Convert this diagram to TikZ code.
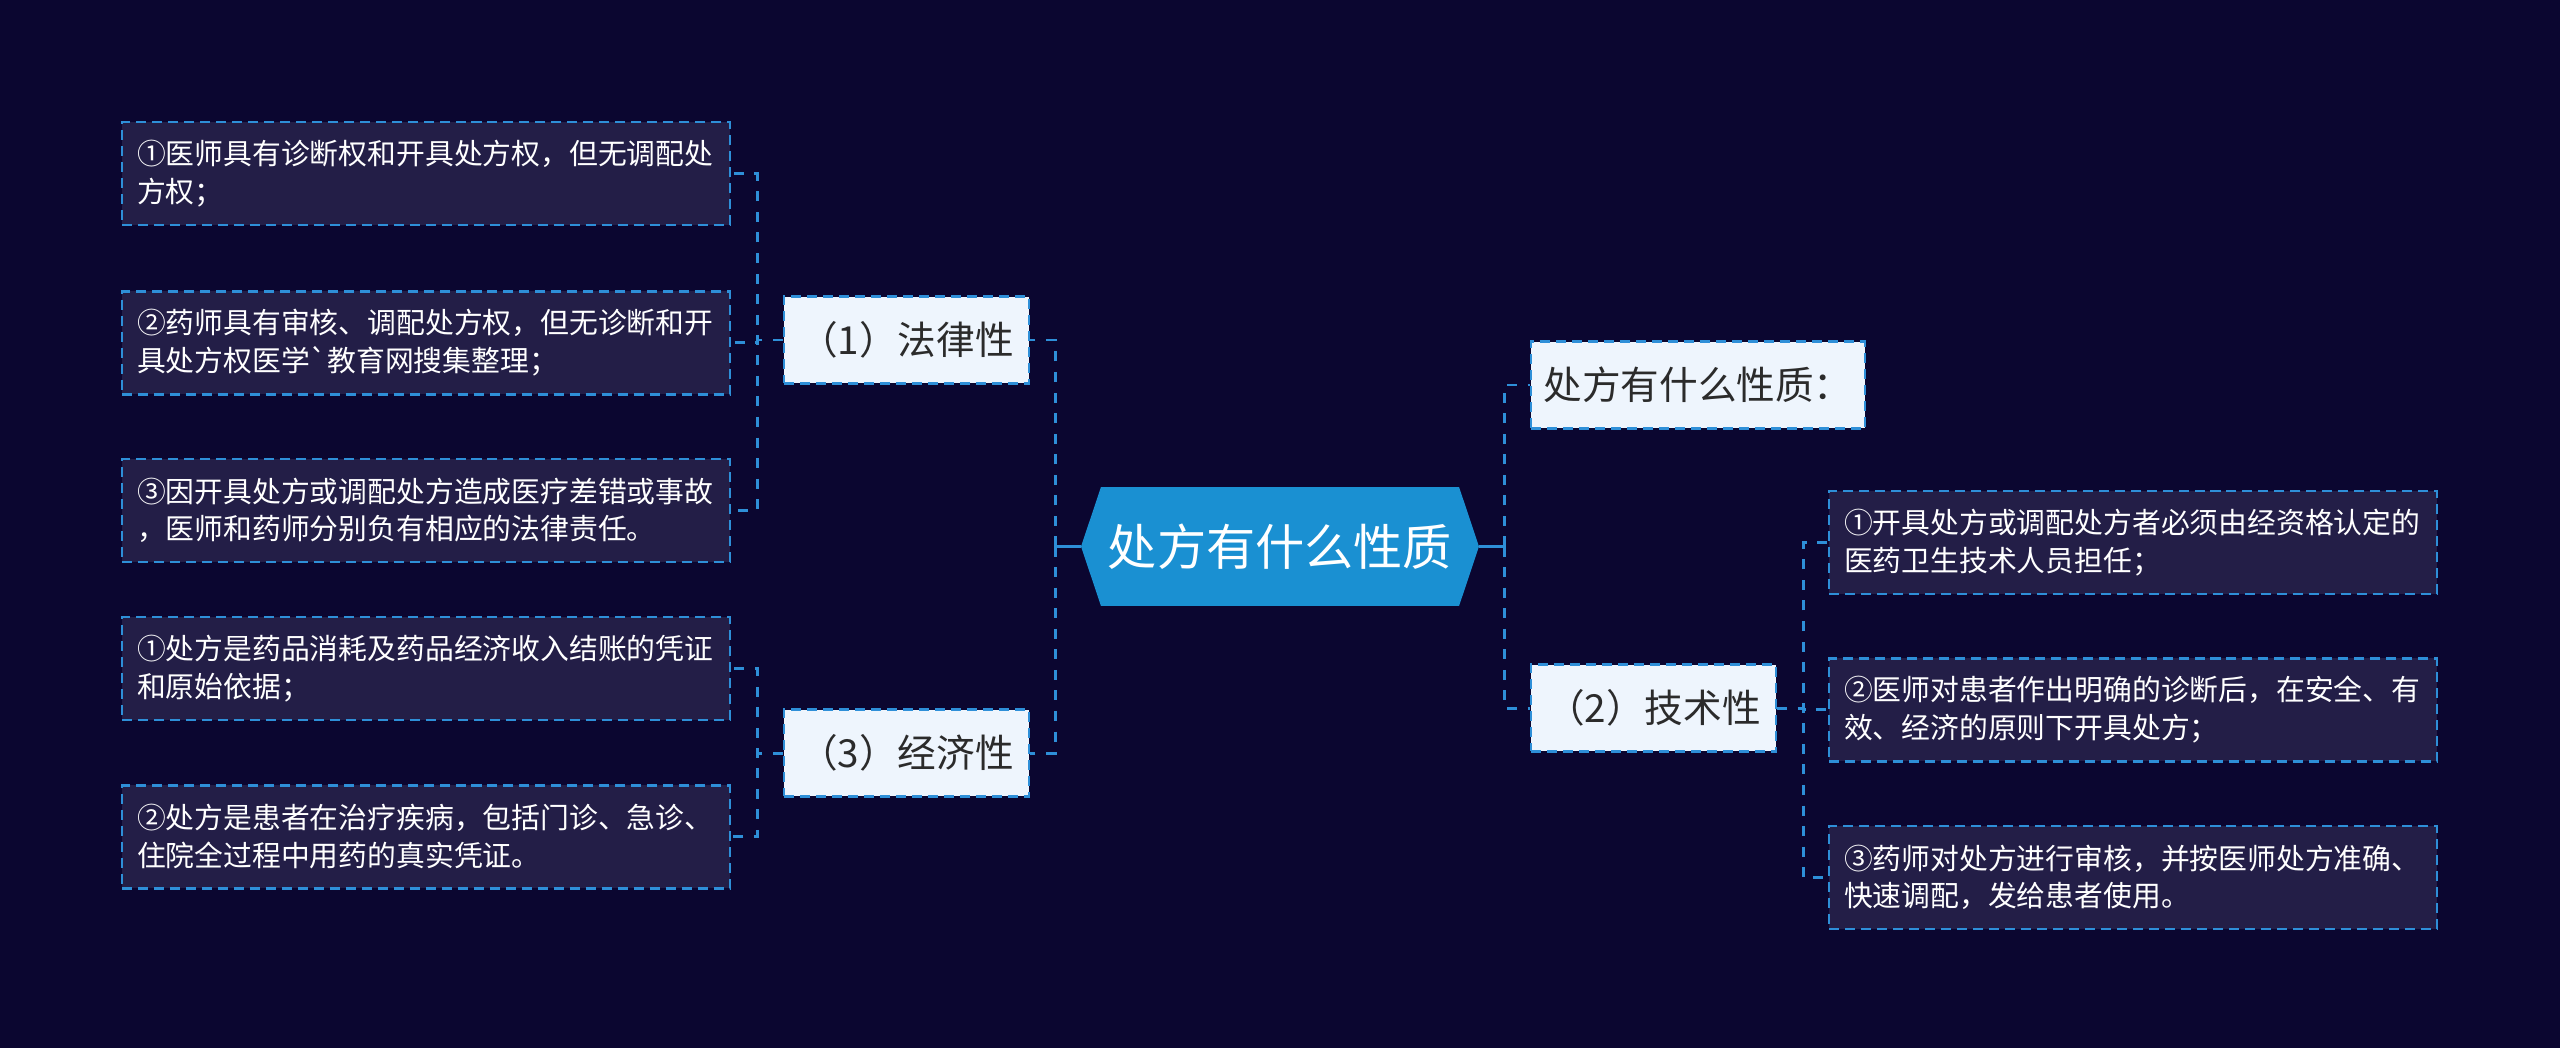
\documentclass[tikz,border=0pt]{standalone}
\usepackage{fontspec}
\setmainfont{Noto Sans CJK SC}
\usetikzlibrary{shapes.symbols, positioning}
\definecolor{mapBg}{HTML}{0B0630}
\definecolor{mapLeaf}{HTML}{231E47}
\definecolor{mapBlue}{HTML}{2E8FD8}
\definecolor{mapRoot}{HTML}{1A90D2}
\definecolor{mapPale}{HTML}{EEF5FD}
\definecolor{mapInk}{HTML}{2B2B2B}
\tikzset{
  rootnode/.style = {shape=signal, signal to=west and east, signal pointer angle=143,
                     fill=mapRoot, text=white, minimum width=7.96cm, minimum height=2.38cm,
                     inner sep=0pt, font=\fontsize{28}{34}\selectfont},
  branch/.style   = {draw=mapBlue, fill=mapPale, text=mapInk, line width=1.4pt,
                     dash pattern=on 5.7pt off 3.4pt, minimum height=1.74cm, inner sep=0pt,
                     font=\fontsize{22}{26}\selectfont},
  leaf/.style     = {draw=mapBlue, fill=mapLeaf, text=white, line width=1.4pt,
                     dash pattern=on 5.7pt off 3.4pt, text width=11.56cm, inner xsep=0.3cm,
                     inner ysep=0pt, minimum height=2.06cm, align=left,
                     font=\fontsize{16.4}{21.6}\selectfont},
  link/.style     = {mapBlue, line width=1.7pt, dash pattern=on 5.7pt off 6pt},
  stem/.style     = {mapBlue, line width=1.8pt},
}

\begin{document}
\begin{tikzpicture}[x=0.02cm, y=-0.02cm]
  \fill[mapBg] (0,0) rectangle (2560,1048);
  \useasboundingbox (0,0) rectangle (2560,1048);

  \node[rootnode] (root) at (1280,546.5) {处方有什么性质};

  \node[branch, minimum width=4.9cm] (legal) at (906.5,340) {（1）法律性};
  \node[branch, minimum width=4.9cm] (econ)  at (906.5,753) {（3）经济性};
  \node[branch, minimum width=6.68cm] (quest) at (1698,385) {处方有什么性质：};
  \node[branch, minimum width=4.9cm] (tech)  at (1653.5,708) {（2）技术性};

  \node[leaf] (l1) at (426,173.5) {①医师具有诊断权和开具处方权，但无调配处\\方权；};
  \node[leaf, below=1.28cm of l1] (l2) {②药师具有审核、调配处方权，但无诊断和开\\具处方权医学\textasciigrave 教育网搜集整理；};
  \node[leaf, below=1.24cm of l2] (l3) {③因开具处方或调配处方造成医疗差错或事故\\，医师和药师分别负有相应的法律责任。};
  \node[leaf] (l4) at (426,668.5) {①处方是药品消耗及药品经济收入结账的凭证\\和原始依据；};
  \node[leaf, below=1.26cm of l4] (l5) {②处方是患者在治疗疾病，包括门诊、急诊、\\住院全过程中用药的真实凭证。};

  \node[leaf] (t1) at (2133,542.5) {①开具处方或调配处方者必须由经资格认定的\\医药卫生技术人员担任；};
  \node[leaf, below=1.24cm of t1] (t2) {②医师对患者作出明确的诊断后，在安全、有\\效、经济的原则下开具处方；};
  \node[leaf, below=1.24cm of t2] (t3) {③药师对处方进行审核，并按医师处方准确、\\快速调配，发给患者使用。};

  \coordinate (lsp) at (757,0);
  \coordinate (rootl) at (1055,0);
  \coordinate (rootr) at (1504,0);
  \coordinate (tsp) at (1803,0);

  \draw[stem] (root.west) -- (root.west -| rootl);
  \draw[stem] (root.east) -- (root.east -| rootr);
  \foreach \n in {legal, econ} \draw[link] (root.west -| rootl) |- (\n.east);
  \foreach \n in {quest, tech} \draw[link] (root.east -| rootr) |- (\n.west);
  \foreach \n in {l1, l2, l3} \draw[link] (legal.west) -- (legal.west -| lsp) |- (\n.east);
  \foreach \n in {l4, l5} \draw[link] (econ.west) -- (econ.west -| lsp) |- (\n.east);
  \foreach \n in {t1, t2, t3} \draw[link] (tech.east) -- (tech.east -| tsp) |- (\n.west);
\end{tikzpicture}
\end{document}
